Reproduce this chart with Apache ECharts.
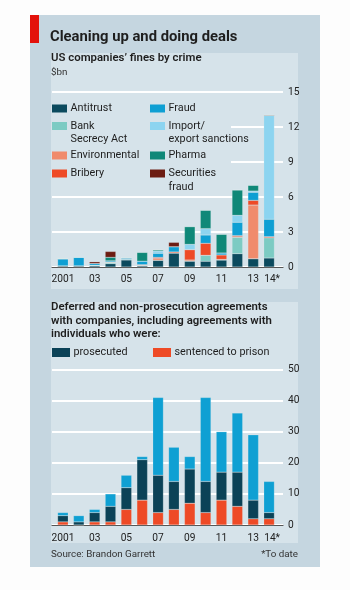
<!DOCTYPE html>
<html>
<head>
<meta charset="utf-8">
<script src="https://cdn.jsdelivr.net/npm/echarts@6/dist/echarts.min.js"></script>
<style>
  html, body { margin: 0; padding: 0; background: #fdfdfd; }
  #chart { width: 350px; height: 590px; }
</style>
</head>
<body>
<div id="chart"></div>
<script>
  // years 2001 - 2014 (14* = to date)
  var years = ['2001', '02', '03', '04', '05', '06', '07', '08', '09', '10', '11', '12', '13', '14*']

  // fines by crime, $bn
  var antitrust = [0.1, 0.1, 0.1, 0.28, 0.6, 0.1, 0.57, 1.2, 0.5, 0.49, 0.6, 1.14, 0.71, 0.77]
  var bankSecrecy = [0, 0, 0.05, 0.1, 0.05, 0, 0, 0, 0, 0.51, 0, 1.4, 0, 1.74]
  var environmental = [0, 0, 0, 0.05, 0, 0.05, 0.15, 0, 0.1, 0, 0.05, 0.05, 4.6, 0]
  var bribery = [0, 0, 0, 0, 0, 0.05, 0.1, 0.09, 0.89, 1.03, 0.38, 0.1, 0.4, 0.09]
  var fraud = [0.6, 0.73, 0.15, 0.1, 0.1, 0.3, 0.35, 0.45, 0, 0.71, 0.17, 1.14, 0.69, 1.49]
  var importSanctions = [0, 0, 0, 0, 0.05, 0, 0.2, 0, 0.45, 0.55, 0, 0.6, 0.11, 8.9]
  var pharma = [0, 0, 0, 0.3, 0, 0.75, 0.1, 0, 1.52, 1.57, 1.6, 2.17, 0.49, 0]
  var securities = [0, 0, 0.15, 0.5, 0, 0, 0, 0.37, 0, 0, 0, 0, 0, 0.05]

  // agreements
  var sentenced = [1, 0, 1, 1, 5, 8, 4, 5, 7, 4, 8, 6, 2, 2]
  var prosecuted = [2, 1, 3, 5, 7, 13, 12, 9, 11, 10, 9, 11, 6, 2]   // excluding those sentenced
  var otherDeals = [1, 2, 1, 4, 4, 1, 25, 11, 4, 27, 13, 19, 21, 10]

  var finesTicks = [0, 15, 3]   // min, max, interval
  var dealsTicks = [0, 50, 10]

  var C = {
    antitrust: '#0b4a5e',
    bank: '#7ccbc3',
    env: '#f08b6c',
    bribery: '#ee4a26',
    fraud: '#0e9fd3',
    imp: '#8cd4f0',
    pharma: '#0f8878',
    sec: '#6c1c12'
  }
  var font = 'Roboto, "Noto Sans", sans-serif'
  var txt = '#1e1e1e'
  var inner = '#d6e3ea'

  // the original face is narrow, so size each text to the width it has in the print
  var measureCtx = document.createElement('canvas').getContext('2d')
  function fit(text, weight, target) {
    measureCtx.font = weight + ' 20px ' + font
    return Math.round(20 * target / measureCtx.measureText(text).width * 10) / 10
  }
  var titleSize = fit('Cleaning up and doing deals', 'bold', 188)
  var subSize = fit('with companies, including agreements with', '600', 222)
  var legendSize = fit('Environmental', 'normal', 69)
  var axisSize = fit('2001', 'normal', 23)
  var noteSize = fit('Source: Brandon Garrett', 'normal', 104)

  var chart = echarts.init(document.getElementById('chart'), null, {renderer: 'canvas'})

  function line(x, y, s, size, weight, color, align) {
    return {type: 'text', x: x, y: y, z: 10, style: {text: s, fill: color || txt, font: (weight || 'normal') + ' ' + size + 'px ' + font,
      verticalAlign: 'middle', align: align || 'left'}}
  }

  function legendItem(x, y, color, lines, w, h) {
    var out = [{type: 'rect', z: 10, shape: {x: x, y: y - h / 2, width: w, height: h}, style: {fill: color}}]
    lines.forEach(function (s, i) {
      out.push(line(x + w + 3.5, y + i * 13.5, s, legendSize))
    })
    return out
  }

  var graphics = [
    {type: 'rect', shape: {x: 30, y: 15, width: 290, height: 552}, style: {fill: '#c5d6e0'}, z: -10},
    {type: 'rect', shape: {x: 30, y: 15, width: 9, height: 28}, style: {fill: '#e3120b'}, z: -9},
    {type: 'rect', shape: {x: 51, y: 53, width: 247, height: 236}, style: {fill: inner}, z: -9},
    {type: 'rect', shape: {x: 51, y: 302, width: 247, height: 241}, style: {fill: inner}, z: -9},
    // legend box hides the gridlines behind it
    {type: 'rect', shape: {x: 51, y: 99, width: 180, height: 93}, style: {fill: inner}, z: 5},
    line(50, 37.5, 'Cleaning up and doing deals', titleSize, 'bold'),
    line(51, 58.5, 'US companies\u2019 fines by crime', subSize, '600'),
    line(51, 73, '$bn', noteSize, 'normal', '#333'),
    line(51, 307.5, 'Deferred and non-prosecution agreements', subSize, '600'),
    line(51, 321, 'with companies, including agreements with', subSize, '600'),
    line(51, 334, 'individuals who were:', subSize, '600'),
    line(51, 555, 'Source: Brandon Garrett', noteSize, 'normal', '#333'),
    line(298, 555, '*To date', noteSize, 'normal', '#333', 'right')
  ]
  graphics = graphics
    .concat(legendItem(52, 108.5, C.antitrust, ['Antitrust'], 15, 8))
    .concat(legendItem(52, 126, C.bank, ['Bank', 'Secrecy Act'], 15, 8))
    .concat(legendItem(52, 155.5, C.env, ['Environmental'], 15, 8))
    .concat(legendItem(52, 173.5, C.bribery, ['Bribery'], 15, 8))
    .concat(legendItem(150, 108.5, C.fraud, ['Fraud'], 15, 8))
    .concat(legendItem(150, 126, C.imp, ['Import/', 'export sanctions'], 15, 8))
    .concat(legendItem(150, 155.5, C.pharma, ['Pharma'], 15, 8))
    .concat(legendItem(150, 173.5, C.sec, ['Securities', 'fraud'], 15, 8))
    .concat(legendItem(52, 352.5, '#0b4257', ['prosecuted'], 18, 9))
    .concat(legendItem(153, 352.5, '#ee4a26', ['sentenced to prison'], 18, 9))

  var axisText = {color: '#222', fontSize: axisSize, fontFamily: font}

  function valueAxis(grid, t, show) {
    return {
      type: 'value', gridIndex: grid, min: t[0], max: t[1], interval: t[2], position: 'right',
      axisLine: {show: false}, axisTick: {show: false},
      axisLabel: Object.assign({show: show, margin: 5}, axisText),
      splitLine: {show: show, lineStyle: {color: '#ffffff', width: 2}}
    }
  }

  function yearAxis(grid, margin) {
    return {
      type: 'category', gridIndex: grid, data: years, axisLine: {show: false}, axisTick: {show: false},
      axisLabel: Object.assign({
        margin: margin, hideOverlap: false, showMaxLabel: true,
        interval: function (i) { return i % 2 === 0 || i === years.length - 1 },
        formatter: function (v) { return v.indexOf('*') > 0 ? '{star|' + v + '}' : v },
        rich: {star: {fontSize: axisSize, fontFamily: font, color: '#222', padding: [0, 0, 0, 6]}}
      }, axisText)
    }
  }

  function baseAxis(grid) {
    return {type: 'value', gridIndex: grid, axisLine: {show: true, onZero: false, lineStyle: {color: '#555', width: 1.2}},
      axisTick: {show: false}, axisLabel: {show: false}, splitLine: {show: false}}
  }

  function bar(name, data, color, ax, stack) {
    return {
      name: name, type: 'bar', stack: stack, xAxisIndex: ax, yAxisIndex: ax,
      data: data, barWidth: 10.6,
      itemStyle: {color: color, borderColor: 'rgba(230,238,242,0.5)', borderWidth: 0.4}
    }
  }

  chart.setOption({
    animation: false,
    graphic: graphics,
    grid: [
      {left: 52, top: 92, width: 231, height: 175},    // top gridlines
      {left: 55, top: 92, width: 222, height: 175},    // top bars
      {left: 52, top: 369.5, width: 231, height: 155.5}, // bottom gridlines
      {left: 55, top: 369.5, width: 222, height: 155.5}  // bottom bars
    ],
    xAxis: [baseAxis(0), yearAxis(1, 7), baseAxis(2), yearAxis(3, 8)],
    yAxis: [
      valueAxis(0, finesTicks, true),
      valueAxis(1, finesTicks, false),
      valueAxis(2, dealsTicks, true),
      valueAxis(3, dealsTicks, false)
    ],
    series: [
      bar('Antitrust', antitrust, C.antitrust, 1, 'fines'),
      bar('Bank Secrecy Act', bankSecrecy, C.bank, 1, 'fines'),
      bar('Environmental', environmental, C.env, 1, 'fines'),
      bar('Bribery', bribery, C.bribery, 1, 'fines'),
      bar('Fraud', fraud, C.fraud, 1, 'fines'),
      bar('Import/export sanctions', importSanctions, C.imp, 1, 'fines'),
      bar('Pharma', pharma, C.pharma, 1, 'fines'),
      bar('Securities fraud', securities, C.sec, 1, 'fines'),
      bar('sentenced to prison', sentenced, '#ee4a26', 3, 'deals'),
      bar('prosecuted', prosecuted, '#0b4257', 3, 'deals'),
      bar('other', otherDeals, '#0fa0d3', 3, 'deals')
    ]
  })
</script>
</body>
</html>
